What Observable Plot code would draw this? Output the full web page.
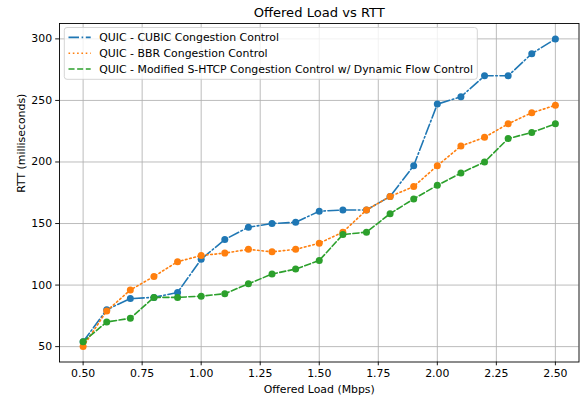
<!DOCTYPE html>
<html>
<head>
<meta charset="utf-8">
<script src="https://cdn.jsdelivr.net/npm/d3@7"></script>
<script src="https://cdn.jsdelivr.net/npm/@observablehq/plot@0.6"></script>
<style>
  html, body { margin: 0; padding: 0; background: white; }
</style>
</head>
<body>
<div id="chart"></div>
<script>
const loads = [0.5, 0.6, 0.7, 0.8, 0.9, 1.0, 1.1, 1.2, 1.3, 1.4, 1.5, 1.6, 1.7, 1.8, 1.9, 2.0, 2.1, 2.2, 2.3, 2.4, 2.5];
const cubic = [54, 80, 89, 90, 94, 121, 137, 147, 150, 151, 160, 161, 161, 172, 197, 247, 253, 270, 270, 288, 300];
const bbr   = [50, 79, 96, 107, 119, 124, 126, 129, 127, 129, 134, 143, 161, 172, 180, 197, 213, 220, 231, 240, 246];
const shtcp = [54, 70, 73, 90, 90, 91, 93, 101, 109, 113, 120, 141, 143, 158, 170, 181, 191, 200, 219, 224, 231];
const seriesNames = [
  "QUIC - CUBIC Congestion Control",
  "QUIC - BBR Congestion Control",
  "QUIC - Modified S-HTCP Congestion Control w/ Dynamic Flow Control"
];
const seriesColors = ["#1f77b4", "#ff7f0e", "#2ca02c"];
const seriesDash = ["10.5,2.6,1.6,2.6", "1.6,2.7", "6.05,2.6"];
const xTicks = [0.5, 0.75, 1.0, 1.25, 1.5, 1.75, 2.0, 2.25, 2.5];
const yTicks = [50, 100, 150, 200, 250, 300];
const titleText = "Offered Load vs RTT";
const xLabel = "Offered Load (Mbps)";
const yLabel = "RTT (milliseconds)";

const FS = 10.9;
const allSeries = [cubic, bbr, shtcp];
const seriesMarks = allSeries.flatMap((vals, s) => {
  const rows = loads.map((x, i) => ({x, y: vals[i]}));
  return [
    Plot.line(rows, {x: "x", y: "y", stroke: seriesColors[s], strokeWidth: 1.6, strokeDasharray: seriesDash[s]}),
    Plot.dot(rows, {x: "x", y: "y", fill: seriesColors[s], r: 3.5, stroke: "none"})
  ];
});

const plot = Plot.plot({
  width: 582,
  height: 399,
  marginLeft: 59,
  marginRight: 3.5,
  marginTop: 23,
  marginBottom: 37.5,
  style: {fontFamily: "DejaVu Sans", fontSize: FS + "px", color: "black", background: "white", overflow: "visible"},
  x: {domain: [0.4, 2.6]},
  y: {domain: [37.5, 312.5]},
  marks: [
    Plot.gridX(xTicks, {stroke: "#b0b0b0", strokeOpacity: 1, strokeWidth: 0.85}),
    Plot.gridY(yTicks, {stroke: "#b0b0b0", strokeOpacity: 1, strokeWidth: 0.85}),
    ...seriesMarks,
    Plot.frame({stroke: "black", strokeWidth: 0.9}),
    Plot.axisX(xTicks, {tickFormat: d3.format(".2f"), tickSize: 3.8, tickPadding: 3.2, fontSize: FS, label: null, strokeWidth: 0.9}),
    Plot.axisY(yTicks, {tickSize: 3.8, tickPadding: 3.6, fontSize: FS, label: null, strokeWidth: 0.9}),
    Plot.text([titleText], {frameAnchor: "top", lineAnchor: "middle", dy: -11, fontSize: 13.1, text: d => d}),
    Plot.text([xLabel], {frameAnchor: "bottom", lineAnchor: "middle", dy: 27.5, fontSize: FS, text: d => d}),
    Plot.text([yLabel], {frameAnchor: "left", lineAnchor: "middle", dx: -38.3, rotate: -90, fontSize: FS, text: d => d})
  ]
});

document.getElementById("chart").appendChild(plot);

// Legend (matplotlib style, upper left)
const svg = d3.select(plot);
const lg = svg.append("g")
  .attr("font-family", "DejaVu Sans").attr("font-size", FS)
  .attr("text-anchor", "start");
lg.append("rect")
  .attr("x", 64.3).attr("y", 27.5).attr("width", 413).attr("height", 51.8)
  .attr("rx", 2.7).attr("fill", "white").attr("fill-opacity", 0.8)
  .attr("stroke", "#cccccc").attr("stroke-width", 0.85);
const rowY = [37.4, 53.2, 69];
seriesNames.forEach((name, i) => {
  lg.append("line")
    .attr("x1", 68.5).attr("x2", 90.7).attr("y1", rowY[i]).attr("y2", rowY[i])
    .attr("stroke", seriesColors[i]).attr("stroke-width", 1.6)
    .attr("stroke-dasharray", seriesDash[i]);
  lg.append("text")
    .attr("x", 99.3).attr("y", rowY[i]).attr("dy", "0.35em")
    .attr("text-anchor", "start")
    .attr("fill", "black").text(name);
});
</script>
</body>
</html>
